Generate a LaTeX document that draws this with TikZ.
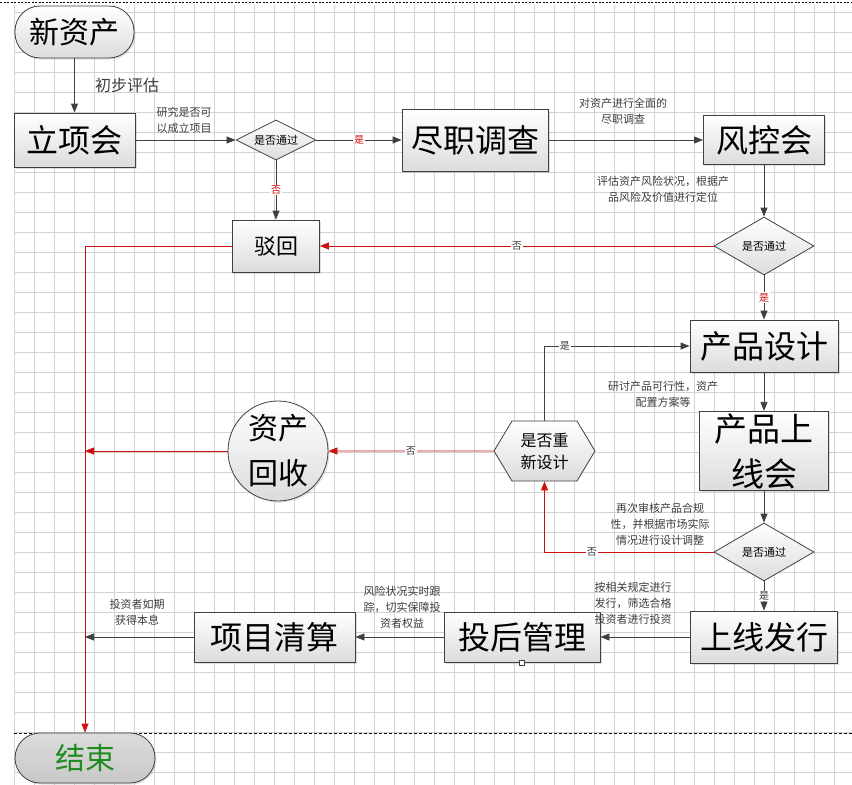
\documentclass[tikz,border=0pt]{standalone}
\usepackage{fontspec}
\setmainfont{Noto Sans CJK SC}
\usepackage{tikz}
\usetikzlibrary{positioning,arrows.meta,shapes.geometric,shapes.symbols,shadows}
\usepackage{xcolor}
\definecolor{fcline}{RGB}{64,64,64}
\definecolor{fcred}{RGB}{204,16,16}
\definecolor{fcgrid}{RGB}{210,210,210}
\definecolor{fcfill}{RGB}{220,220,220}
\definecolor{fcgray}{RGB}{200,200,200}
\definecolor{fcgreen}{RGB}{30,140,30}
\definecolor{fctext}{RGB}{60,60,60}

\begin{document}
\begin{tikzpicture}[
  x=1pt, y=-1pt,
  box/.style={rectangle, draw=fcline, line width=0.8pt, top color=white,
    bottom color=fcfill, align=center, inner sep=2pt,
    font=\fontsize{32}{38}\selectfont,
    drop shadow={shadow xshift=1.5pt, shadow yshift=-1.5pt, opacity=0.25}},
  term/.style={box, rounded corners=25pt},
  dec/.style={diamond, draw=fcline, line width=0.8pt, top color=white,
    bottom color=fcfill, inner sep=0pt, aspect=2,
    font=\fontsize{11}{14}\selectfont},
  hexa/.style={signal, signal to=west and east, signal pointer angle=118,
    draw=fcline, line width=0.8pt, top color=white, bottom color=fcfill,
    align=center, inner sep=0pt, minimum width=101pt, minimum height=60pt,
    font=\fontsize{16}{22}\selectfont},
  round/.style={circle, draw=fcline, line width=0.8pt, top color=white,
    bottom color=fcfill, align=center, inner sep=0pt, minimum size=100pt,
    font=\fontsize{30}{45}\selectfont,
    drop shadow={shadow xshift=1.5pt, shadow yshift=-1.5pt, opacity=0.25}},
  lab/.style={align=center, text=fctext, inner sep=1pt,
    font=\fontsize{11}{16}\selectfont},
  yn/.style={fill=white, inner sep=1pt, text=fctext,
    font=\fontsize{10}{12}\selectfont},
  arr/.style={-{Triangle[length=9pt, width=7pt]}, line width=0.8pt, draw=fcline},
  redarr/.style={-{Triangle[length=9pt, width=7pt]}, line width=0.8pt,
    draw=fcred}
]
\useasboundingbox (0,0) rectangle (852,785);

% background grid
\begin{scope}[shift={(14,12)}]
  \draw[fcgrid, line width=0.5pt, step=20pt] (0,-7) grid (838,773);
\end{scope}
\draw[line width=0.6pt, dash pattern=on 2pt off 1.5pt] (0,2) -- (852,2);
\draw[line width=0.6pt, dash pattern=on 3pt off 2pt] (14,733) -- (852,733);

% approval chain
\node[term, minimum width=119pt, minimum height=52pt,
  font=\fontsize{30}{36}\selectfont] (new) at (74.5,32) {新资产};
\node[box, minimum width=121pt, minimum height=54pt] (meet) at (74.5,140) {立项会};
\node[dec, minimum width=80pt, minimum height=40pt] (pass1) at (276,140) {是否通过};
\node[box, minimum width=146pt, minimum height=62pt] (dd) at (475,140) {尽职调查};
\node[box, minimum width=121pt, minimum height=49pt] (risk) at (764,140) {风控会};
\node[dec, minimum width=100pt, minimum height=58pt] (pass2) at (764,246) {是否通过};
\node[box, minimum width=87pt, minimum height=52pt,
  font=\fontsize{22}{26}\selectfont] (rej) at (276,246) {驳回};

% product design
\node[box, minimum width=148pt, minimum height=52pt] (design) at (764,346) {产品设计};
\node[box, minimum width=129pt, minimum height=78pt,
  font=\fontsize{33}{45}\selectfont] (launch) at (764,451) {产品上\\线会};
\node[dec, minimum width=100pt, minimum height=58pt] (pass3) at (764,552) {是否通过};
\node[hexa] (redo) at (544.5,451) {是否重\\新设计};
\node[round] (recover) at (278,451) {资产\\回收};

% issue and after
\node[box, minimum width=147pt, minimum height=52pt] (issue) at (764,637) {上线发行};
\node[box, minimum width=156pt, minimum height=50pt] (post) at (522,637) {投后管理};
\node[box, minimum width=161pt, minimum height=50pt] (clear) at (274.5,637) {项目清算};
\node[term, minimum width=140pt, minimum height=50pt, bottom color=fcgray,
  top color=fcfill, text=fcgreen, font=\fontsize{30}{36}\selectfont]
  (stop) at (85,758) {结束};
\node[draw=fcline, fill=white, inner sep=0pt, minimum size=5pt,
  line width=0.6pt] (handle) at (post.south) {};

\draw[arr] (new) -- (meet);
\draw[arr] (meet) -- (pass1);
\draw[arr] (pass1) -- node[yn, text=fcred] {是} (dd);
\draw[arr] (pass1) -- node[yn, text=fcred] {否} (rej);
\draw[arr] (dd) -- (risk);
\draw[arr] (risk) -- (pass2);
\draw[redarr] (pass2) -- node[yn] {否} (rej);
\draw[arr] (pass2) -- node[yn, text=fcred] {是} (design);
\draw[arr] (design) -- (launch);
\draw[arr] (launch) -- (pass3);
\draw[redarr] (pass3.west) -| node[yn, pos=0.36] {否} (redo.south);
\draw[arr] (redo.north) |- node[yn, pos=0.57] {是} (design.west);
\draw[redarr] (redo) -- node[yn] {否} (recover);
\draw[arr] (pass3) -- node[yn] {是} (issue);
\draw[arr] (issue) -- (post);
\draw[arr] (post) -- (clear);

% everything that stops runs down to the end
\draw[redarr] (rej.west) -| (stop.north);
\draw[redarr] (recover.west) -- (recover.west -| stop.north);
\draw[arr] (clear.west) -- (clear.west -| stop.north);

% notes on the steps
\node[lab, font=\fontsize{16}{20}\selectfont] (n1) at (127,85) {初步评估};
\node[lab] (n2) at (184,120) {研究是否可\\以成立项目};
\node[lab] (n3) at (623,111) {对资产进行全面的\\尽职调查};
\node[lab] (n4) at (663,189) {评估资产风险状况，根据产\\品风险及价值进行定位};
\node[lab] (n5) at (663,394) {研讨产品可行性，资产\\配置方案等};
\node[lab] (n6) at (660,524) {再次审核产品合规\\性，并根据市场实际\\情况进行设计调整};
\node[lab] (n7) at (633,603) {按相关规定进行\\发行，筛选合格\\投资者进行投资};
\node[lab] (n8) at (402,607) {风险状况实时跟\\踪，切实保障投\\资者权益};
\node[lab] (n9) at (137,612) {投资者如期\\获得本息};
\end{tikzpicture}
\end{document}
